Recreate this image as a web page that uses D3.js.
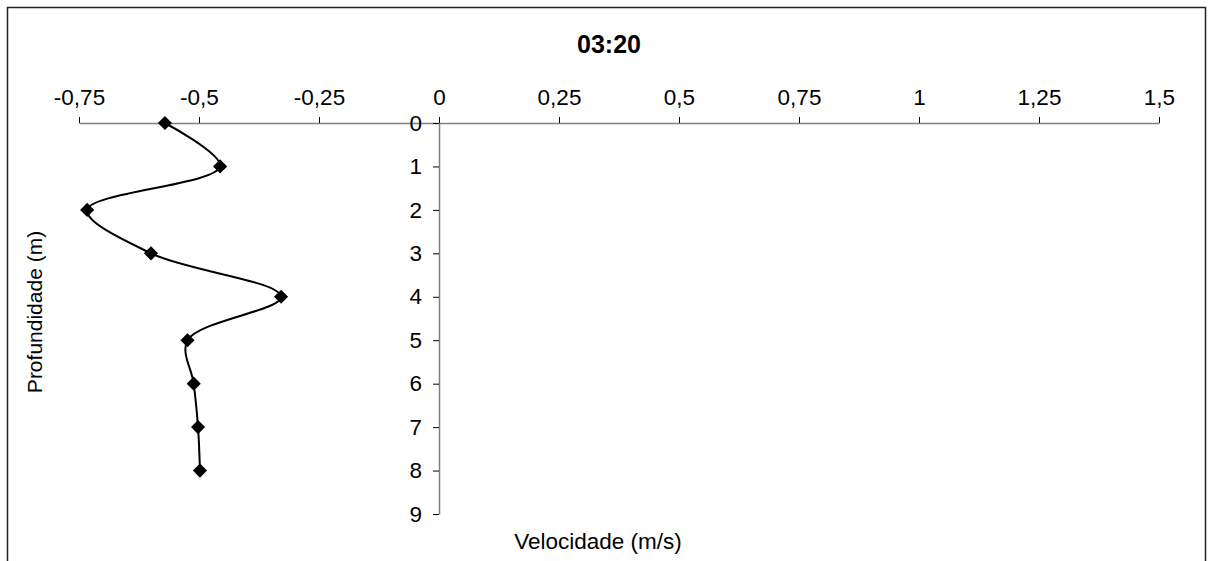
<!DOCTYPE html>
<html>
<head>
<meta charset="utf-8">
<script src="https://cdn.jsdelivr.net/npm/d3@7"></script>
<style>
  html, body { margin: 0; padding: 0; background: #fff; }
  svg { display: block; font-family: "Liberation Sans", Arial, sans-serif; }
</style>
</head>
<body>
<svg id="chart" width="1212" height="561"></svg>
<script>
const title = "03:20";
const xTitle = "Velocidade (m/s)";
const yTitle = "Profundidade (m)";
const depths = [0, 1, 2, 3, 4, 5, 6, 7, 8];
const velocities = [-0.571, -0.456, -0.733, -0.600, -0.329, -0.524, -0.511, -0.502, -0.498];
const xTicks = [-0.75, -0.5, -0.25, 0, 0.25, 0.5, 0.75, 1, 1.25, 1.5];
const yTicks = [0, 1, 2, 3, 4, 5, 6, 7, 8, 9];

const FONT = "'Liberation Sans', Arial, sans-serif";
const svg = d3.select("#chart");
const fmt = d => String(d).replace(".", ",");

// frame
svg.append("rect")
  .attr("x", 7.5).attr("y", 7.5)
  .attr("width", 1198).attr("height", 600)
  .attr("fill", "#fff").attr("stroke", "#222").attr("stroke-width", 1.5);

const x = d3.scaleLinear().domain([-0.75, 1.5]).range([79, 1159]);
const y = d3.scaleLinear().domain([0, 9]).range([123, 514]);

// X axis (top, at depth 0)
const gx = svg.append("g")
  .attr("transform", `translate(0,${y(0)})`)
  .call(d3.axisTop(x).tickValues(xTicks).tickFormat(fmt).tickSize(6).tickSizeOuter(0).tickPadding(12));
gx.select(".domain").attr("stroke", "#808080").attr("stroke-width", 1.5);
gx.selectAll(".tick line").attr("stroke", "#000");
gx.selectAll(".tick text").attr("font-size", 22.5).attr("fill", "#000").attr("font-family", FONT);

// Y axis (at velocity 0)
const gy = svg.append("g")
  .attr("transform", `translate(${x(0)},0)`)
  .call(d3.axisLeft(y).tickValues(yTicks).tickFormat(fmt).tickSize(6).tickSizeOuter(0).tickPadding(11));
gy.select(".domain").attr("stroke", "#808080").attr("stroke-width", 1.5);
gy.selectAll(".tick line").attr("stroke", "#000");
gy.selectAll(".tick text").attr("font-size", 22.5).attr("fill", "#000").attr("font-family", FONT);

// data
const pts = depths.map((d, i) => [x(velocities[i]), y(d)]);
svg.append("path")
  .attr("d", d3.line().curve(d3.curveCatmullRom.alpha(0.5))(pts))
  .attr("fill", "none").attr("stroke", "#000").attr("stroke-width", 2);

svg.selectAll("path.mk").data(pts).join("path")
  .attr("class", "mk")
  .attr("d", d3.symbol(d3.symbolSquare, 100)())
  .attr("transform", d => `translate(${d[0]},${d[1]}) rotate(45)`)
  .attr("fill", "#000");

// titles
svg.append("text").attr("x", 609).attr("y", 53)
  .attr("text-anchor", "middle").attr("font-size", 25).attr("font-weight", "bold").attr("font-family", FONT)
  .text(title);
svg.append("text").attr("x", 598).attr("y", 549)
  .attr("text-anchor", "middle").attr("font-size", 22.5).attr("font-family", FONT)
  .text(xTitle);
svg.append("text")
  .attr("transform", "translate(42,312) rotate(-90)")
  .attr("text-anchor", "middle").attr("font-size", 21).attr("font-family", FONT)
  .text(yTitle);
</script>
</body>
</html>
